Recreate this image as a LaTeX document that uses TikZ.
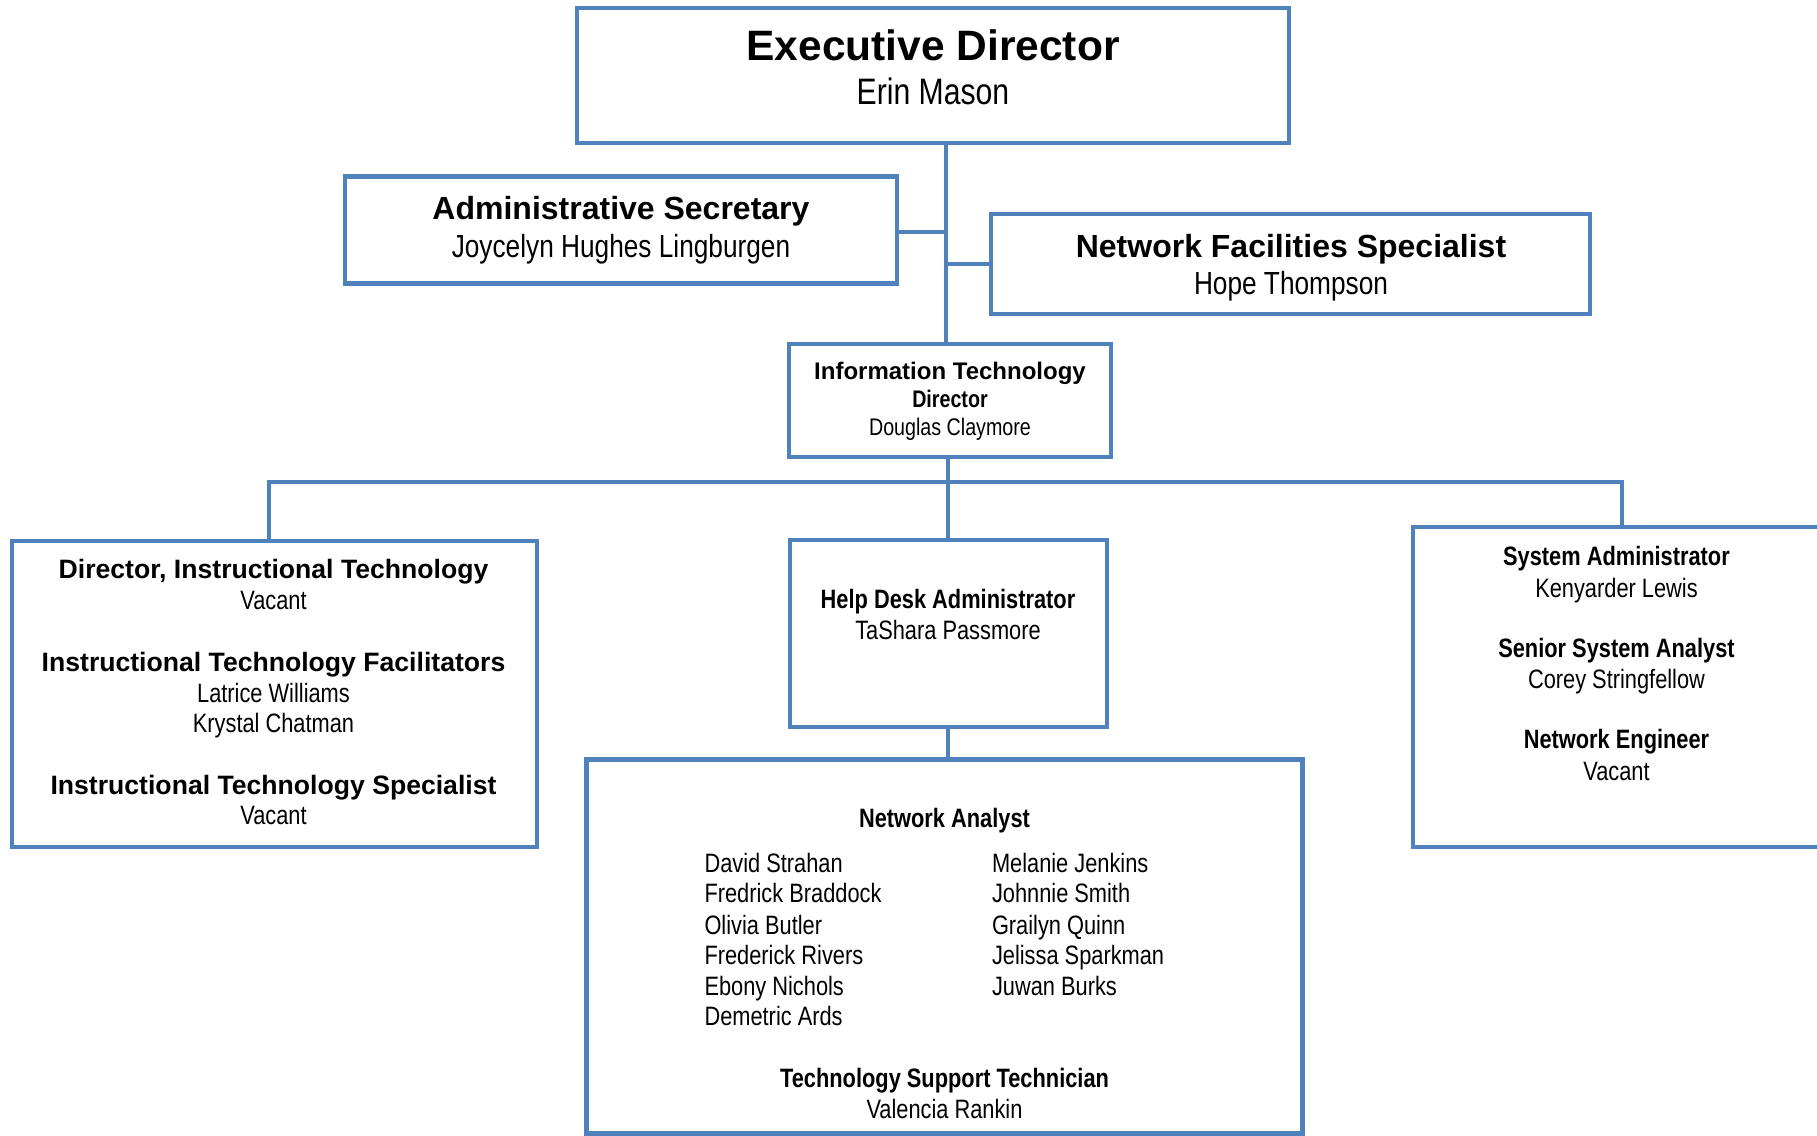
\documentclass[tikz,border=0pt]{standalone}
\usepackage{fontspec}
\setmainfont{Liberation Sans}
\newfontfamily\narrowfont[FakeStretch=0.82]{Liberation Sans}
\definecolor{boxblue}{HTML}{4F81BD}
\begin{document}
\begin{tikzpicture}[x=0.5pt,y=-0.5pt,
  box/.style={draw=boxblue,line width=2.4pt,fill=white,inner sep=0pt,outer sep=0pt},
  link/.style={draw=boxblue,line width=2.4pt},
  linkshadow/.style={draw=black!14,line width=2.4pt,shift={(2,4)}},
  txt/.style={inner sep=0pt,outer sep=0pt,anchor=base},
  lefttxt/.style={inner sep=0pt,outer sep=0pt,anchor=base west},
  exectitle/.style={font=\fontsize{21.25pt}{25pt}\selectfont\bfseries},
  execname/.style={font=\fontsize{18.4pt}{22pt}\selectfont\narrowfont},
  midtitle/.style={font=\fontsize{16pt}{19pt}\selectfont\bfseries},
  midname/.style={font=\fontsize{16pt}{19pt}\selectfont\narrowfont},
  ittitle/.style={font=\fontsize{12pt}{14pt}\selectfont\bfseries},
  itsub/.style={font=\fontsize{12pt}{14pt}\selectfont\narrowfont\bfseries},
  itname/.style={font=\fontsize{12pt}{14pt}\selectfont\narrowfont},
  widetitle/.style={font=\fontsize{13.3pt}{16pt}\selectfont\bfseries},
  narrowtitle/.style={font=\fontsize{13.3pt}{16pt}\selectfont\narrowfont\bfseries},
  person/.style={font=\fontsize{13.3pt}{16pt}\selectfont\narrowfont}
]
\useasboundingbox (0,0) rectangle (1817,1136);
\clip (0,0) rectangle (1817,1136);
\fill[white] (0,0) rectangle (1817,1136);

% named points of the connectors
\coordinate (trunk) at (946,240);
\coordinate (aconn) at (896,232);
\coordinate (nconn) at (946,264);
\coordinate (busL) at (269,482);
\coordinate (busM) at (948,482);
\coordinate (busR) at (1622,482);

% boxes (drawn first as anchors, then connectors, then boxes again on top)
\node[box,minimum width=356pt,minimum height=67.5pt] (exec) at (933,75.5) {};
\node[box,minimum width=276pt,minimum height=53.5pt] (admin) at (621,230) {};
\node[box,minimum width=299.5pt,minimum height=50pt] (nfs) at (1290.5,264) {};
\node[box,minimum width=161pt,minimum height=56.5pt] (itd) at (950,400.5) {};
\node[box,minimum width=262.5pt,minimum height=153pt] (left) at (274.5,694) {};
\node[box,minimum width=158.5pt,minimum height=93.5pt] (hd) at (948.5,633.5) {};
\node[box,minimum width=358pt,minimum height=187pt] (na) at (944.5,946.5) {};
\node[box,minimum width=208.5pt,minimum height=160pt] (right) at (1621.5,687) {};

% connector shadows
\begin{scope}[on background layer/.style={}]
\draw[linkshadow] (exec.south -| trunk) -- (itd.north -| trunk);
\draw[linkshadow] (aconn) -- (aconn -| trunk);
\draw[linkshadow] (nconn) -- (nfs.west |- nconn);
\draw[linkshadow] (busL) -- (busR);
\draw[linkshadow] (itd.south -| busM) -- (hd.north -| busM);
\draw[linkshadow] (hd.south -| busM) -- (na.north -| busM);
\end{scope}

% connectors
\draw[link] (exec.south -| trunk) -- (itd.north -| trunk);
\draw[link] (aconn) -- (aconn -| trunk);
\draw[link] (nconn) -- (nfs.west |- nconn);
\draw[link] (itd.south -| busM) -- (hd.north -| busM);
\draw[link] (left.north -| busL) -- (busL) -- (busR) -- (right.north -| busR);
\draw[link] (hd.south -| busM) -- (na.north -| busM);

% Executive director
\node[txt,exectitle] (t1) at (933,60) {Executive Director};
\node[txt,execname] (t2) at (933,104.7) {Erin Mason};
% Admin secretary
\node[txt,midtitle] (t3) at (621,219) {Administrative Secretary};
\node[txt,midname] (t4) at (621,257.2) {Joycelyn Hughes Lingburgen};
% NFS
\node[txt,midtitle] (t5) at (1291,257.2) {Network Facilities Specialist};
\node[txt,midname] (t6) at (1291,294.2) {Hope Thompson};
% IT director
\node[txt,ittitle] (t7) at (950,379.4) {Information Technology};
\node[txt,itsub] (t8) at (950,407.2) {Director};
\node[txt,itname] (t9) at (950,435) {Douglas Claymore};
% Left box
\node[txt,widetitle] (t10) at (273.5,578.5) {Director, Instructional Technology};
\node[txt,person] (t11) at (273.5,609.5) {Vacant};
\node[txt,widetitle] (t12) at (273.5,671.2) {Instructional Technology Facilitators};
\node[txt,person] (t13) at (273.5,702.5) {Latrice Williams};
\node[txt,person] (t14) at (273.5,732.5) {Krystal Chatman};
\node[txt,widetitle] (t15) at (273.5,794) {Instructional Technology Specialist};
\node[txt,person] (t16) at (273.5,824.1) {Vacant};
% Help desk
\node[txt,narrowtitle] (t17) at (948,608.5) {Help Desk Administrator};
\node[txt,person] (t18) at (948,639.5) {TaShara Passmore};
% Right box
\node[txt,narrowtitle] (t19) at (1616.5,565.5) {System Administrator};
\node[txt,person] (t20) at (1616.5,597) {Kenyarder Lewis};
\node[txt,narrowtitle] (t21) at (1616.5,657.3) {Senior System Analyst};
\node[txt,person] (t22) at (1616.5,688.5) {Corey Stringfellow};
\node[txt,narrowtitle] (t23) at (1616.5,748.8) {Network Engineer};
\node[txt,person] (t24) at (1616.5,780.1) {Vacant};
% Network analyst box
\node[txt,narrowtitle] (t25) at (944.5,827.5) {Network Analyst};
\node[lefttxt,person] (t26) at (704.5,872.8) {David Strahan};
\node[lefttxt,person] (t27) at (704.5,902.9) {Fredrick Braddock};
\node[lefttxt,person] (t28) at (704.5,934.2) {Olivia Butler};
\node[lefttxt,person] (t29) at (704.5,964.3) {Frederick Rivers};
\node[lefttxt,person] (t30) at (704.5,995.6) {Ebony Nichols};
\node[lefttxt,person] (t31) at (704.5,1025.8) {Demetric Ards};
\node[lefttxt,person] (t32) at (992,872.8) {Melanie Jenkins};
\node[lefttxt,person] (t33) at (992,902.9) {Johnnie Smith};
\node[lefttxt,person] (t34) at (992,934.2) {Grailyn Quinn};
\node[lefttxt,person] (t35) at (992,964.3) {Jelissa Sparkman};
\node[lefttxt,person] (t36) at (992,995.6) {Juwan Burks};
\node[txt,narrowtitle] (t37) at (944.5,1087.2) {Technology Support Technician};
\node[txt,person] (t38) at (944.5,1118.5) {Valencia Rankin};
\end{tikzpicture}
\end{document}
